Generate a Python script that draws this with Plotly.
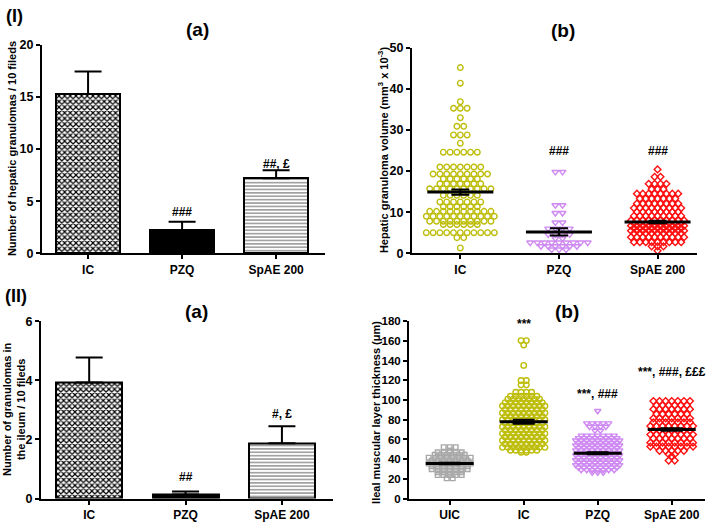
import plotly.graph_objects as go

W, H = 709, 525
FONT = "Liberation Sans"


def fx(px):
    return px / W


def fy(py):
    return 1 - py / H


# ---------------- data ----------------
# (I)(a) bar chart
ia_cats = ["IC", "PZQ", "SpAE 200"]
ia_means = [15.3, 2.2, 7.2]
ia_sem = [2.15, 0.82, 0.77]
ia_sig = ["", "###", "##, £"]
ia_sig_y = [0, 4.0, 8.6]

# (II)(a) bar chart
iia_cats = ["IC", "PZQ", "SpAE 200"]
iia_means = [3.93, 0.14, 1.87]
iia_sem = [0.85, 0.10, 0.58]
iia_sig = ["", "##", "#, £"]
iia_sig_y = [0, 0.73, 2.87]

# (I)(b) scatter dot plot: rows of points (value, number of points in the row)
ib_cats = ["IC", "PZQ", "SpAE 200"]
ib_means = [14.9, 5.2, 7.6]
ib_sems = [0.65, 0.9, 0.3]
ib_sig = ["", "###", "###"]
ib_sig_y = [0, 24.9, 24.9]

ib_ic_rows = [45.2, 41.4, 36.9, 35.3, 33.0, 30.9, 28.8, 26.8, 24.6, 21.0, 19.3, 18.1,
              16.9, 15.7, 14.1, 12.5, 11.3, 10.2, 9.0, 7.8, 7.0, 5.0, 3.8, 1.3]
ib_ic_counts = [1, 1, 1, 3, 1, 2, 3, 1, 6, 7, 9, 6,
                7, 10, 6, 7, 6, 10, 11, 10, 6, 11, 2, 1]

ib_pzq_rows = [19.8, 11.7, 9.8, 7.5, 6.0, 4.6, 3.6, 2.6, 1.7, 0.9]
ib_pzq_counts = [2, 2, 2, 2, 4, 4, 2, 9, 6, 3]

ib_spae_rows = [20.4, 18.6, 16.9, 15.6, 14.5, 13.3, 12.1, 11.0, 10.1, 9.1, 8.0, 7.3,
                6.7, 6.1, 5.5, 4.9, 3.9, 2.7, 1.7, 0.6]
ib_spae_counts = [1, 2, 4, 3, 8, 7, 8, 9, 8, 9, 10, 9,
                  10, 9, 10, 9, 10, 9, 3, 1]

# (II)(b) scatter dot plot
iib_cats = ["UIC", "IC", "PZQ", "SpAE 200"]
iib_means = [35.6, 78.0, 46.0, 70.2]
iib_sems = [0.8, 2.0, 1.0, 1.3]
iib_sig = ["", "***", "***, ###", "***, ###, £££"]
iib_sig_y = [0, 177, 106, 129]

iib_uic_rows = [52.2, 48.8, 47.0, 44.5, 41.5, 38.5, 35.5, 32.8, 29.8, 26.8, 23.8, 20.5]
iib_uic_counts = [3, 1, 5, 6, 8, 7, 8, 7, 7, 5, 5, 2]

iib_ic_rows = [160.5, 156.0, 135.3, 120.0, 115.5, 108.0, 104.0, 101.0, 97.5, 94.0, 90.5,
               87.0, 83.5, 80.0, 76.5, 73.0, 69.5, 66.0, 62.5, 59.0, 55.5, 52.0, 49.0, 47.0]
iib_ic_counts = [2, 1, 1, 2, 2, 4, 6, 7, 8, 9, 8,
                 9, 8, 9, 8, 9, 8, 9, 8, 9, 8, 9, 6, 2]

iib_pzq_rows = [89.0, 76.5, 73.0, 69.0, 64.0, 61.5, 59.0, 56.5, 54.0, 51.5, 49.0, 46.5,
                44.0, 41.5, 39.0, 36.5, 34.0, 31.5, 29.0, 26.5]
iib_pzq_counts = [1, 5, 4, 2, 7, 8, 9, 8, 9, 8, 9, 8,
                  9, 8, 9, 8, 9, 8, 7, 3]

iib_spae_rows = [99.0, 94.7, 90.8, 85.8, 81.5, 77.5, 73.6, 69.3, 65.0, 61.1, 56.8, 52.8,
                 48.5, 45.0, 42.9, 38.6]
iib_spae_counts = [7, 6, 7, 6, 7, 7, 8, 7, 8, 7, 8, 8,
                   5, 2, 1, 2]

# ---------------- geometry (pixels) ----------------
P_IA = dict(x0=42, x1=325, y0=39, y1=253, xr=[-0.49, 2.52], yr=[0, 20])
P_IB = dict(x0=412, x1=697, y0=42, y1=253, xr=[-0.49, 2.40], yr=[0, 50])
P_IIA = dict(x0=41, x1=333, y0=323, y1=505, xr=[-0.50, 2.53], yr=[0, 6])
P_IIB = dict(x0=409, x1=705, y0=323, y1=505, xr=[-0.55, 3.45], yr=[0, 180])


def px_per_cat(p):
    return (p["x1"] - p["x0"]) / (p["xr"][1] - p["xr"][0])


def rows_layout(rows, counts, center, spacing_px, ppc):
    xs, ys = [], []
    for v, n in zip(rows, counts):
        for i in range(n):
            xs.append(center + (i - (n - 1) / 2) * spacing_px / ppc)
            ys.append(v)
    return xs, ys


fig = go.Figure()


def add_axes(idx, p, cats, yticks, ytick_size=12):
    sfx = "" if idx == 1 else str(idx)
    fig.layout["xaxis" + sfx] = dict(
        domain=[fx(p["x0"]), fx(p["x1"])], range=p["xr"], anchor="y" + sfx,
        tickvals=list(range(len(cats))), ticktext=cats, showline=True, linecolor="black",
        linewidth=2, ticks="outside", ticklen=4, tickwidth=2, tickcolor="black",
        showgrid=False, zeroline=False,
        tickfont=dict(family=FONT, size=12, color="black", weight="bold"), fixedrange=True)
    fig.layout["yaxis" + sfx] = dict(
        domain=[fy(p["y1"]), fy(p["y0"])], range=p["yr"], anchor="x" + sfx,
        tickvals=yticks, showline=True, linecolor="black", linewidth=2, ticks="outside",
        ticklen=4, tickwidth=2, tickcolor="black", showgrid=False, zeroline=False,
        tickfont=dict(family=FONT, size=ytick_size, color="black", weight="bold"),
        fixedrange=True)


add_axes(1, P_IA, ia_cats, [0, 5, 10, 15, 20], 12.5)
add_axes(2, P_IB, ib_cats, [0, 10, 20, 30, 40, 50], 12.5)
add_axes(3, P_IIA, iia_cats, [0, 2, 4, 6], 12.5)
add_axes(4, P_IIB, iib_cats, list(range(0, 181, 20)), 11.5)

# ---------------- bars ----------------
bar_styles = [
    dict(color="white", pattern=dict(shape="x", size=4, solidity=0.5, fgcolor="black",
                                     bgcolor="white", fillmode="replace")),
    dict(color="black"),
    dict(color="white", pattern=dict(shape="-", size=3.4, solidity=0.25, fgcolor="#444444",
                                     bgcolor="white", fillmode="replace")),
]
for xa, ya, means, sem in [("x", "y", ia_means, ia_sem), ("x3", "y3", iia_means, iia_sem)]:
    for i, (m, e) in enumerate(zip(means, sem)):
        st = dict(bar_styles[i])
        st["line"] = dict(color="black", width=2)
        fig.add_trace(go.Bar(
            x=[i], y=[m], xaxis=xa, yaxis=ya, width=0.685, marker=st,
            error_y=dict(type="data", symmetric=False, array=[e], arrayminus=[0],
                         color="black", thickness=2, width=13.5),
            hoverinfo="skip"))

# ---------------- scatter dot plots ----------------
OLIVE = "#BDBD0A"
VIOLET = "#CF8AF2"
RED = "#FF1010"
GRAY = "#A8A8A8"

ppc_ib = px_per_cat(P_IB)
ppc_iib = px_per_cat(P_IIB)

ib_groups = [
    (ib_ic_rows, ib_ic_counts, 0, 6.8, "circle-open", OLIVE, 5.6),
    (ib_pzq_rows, ib_pzq_counts, 1, 7.2, "triangle-down-open", VIOLET, 6),
    (ib_spae_rows, ib_spae_counts, 2, 5.9, "diamond-open", RED, 5.2),
]
for rows, counts, c, sp, sym, col, sz in ib_groups:
    xs, ys = rows_layout(rows, counts, c, sp, ppc_ib)
    fig.add_trace(go.Scatter(x=xs, y=ys, xaxis="x2", yaxis="y2", mode="markers",
                             marker=dict(symbol=sym, size=sz, color=col,
                                         line=dict(color=col, width=1.4)),
                             cliponaxis=False, hoverinfo="skip"))

iib_groups = [
    (iib_uic_rows, iib_uic_counts, 0, 6.0, "square-open", GRAY, 4.6),
    (iib_ic_rows, iib_ic_counts, 1, 5.3, "circle-open", OLIVE, 5.5),
    (iib_pzq_rows, iib_pzq_counts, 2, 5.5, "triangle-down-open", VIOLET, 5.6),
    (iib_spae_rows, iib_spae_counts, 3, 6.1, "diamond-open", RED, 5.2),
]
for rows, counts, c, sp, sym, col, sz in iib_groups:
    xs, ys = rows_layout(rows, counts, c, sp, ppc_iib)
    fig.add_trace(go.Scatter(x=xs, y=ys, xaxis="x4", yaxis="y4", mode="markers",
                             marker=dict(symbol=sym, size=sz, color=col,
                                         line=dict(color=col, width=1.4)),
                             cliponaxis=False, hoverinfo="skip"))

# mean lines with SEM
for xa, ya, means, sems, ppc in [("x2", "y2", ib_means, ib_sems, ppc_ib),
                                  ("x4", "y4", iib_means, iib_sems, ppc_iib)]:
    half = (33 if xa == "x2" else 24) / ppc
    for i, m in enumerate(means):
        fig.add_trace(go.Scatter(x=[i - half, i + half], y=[m, m], xaxis=xa, yaxis=ya,
                                 mode="lines", line=dict(color="black", width=3),
                                 hoverinfo="skip"))
    fig.add_trace(go.Scatter(x=list(range(len(means))), y=means, xaxis=xa, yaxis=ya,
                             mode="markers", marker=dict(size=1, color="rgba(0,0,0,0)"),
                             error_y=dict(type="data", array=sems, color="black",
                                          thickness=2, width=9 if xa == "x2" else 11),
                             hoverinfo="skip"))

# ---------------- annotations ----------------
ann = []
sig_font = dict(family=FONT, size=12, color="black", weight="bold")
for xa, ya, sig, sy in [("x", "y", ia_sig, ia_sig_y), ("x2", "y2", ib_sig, ib_sig_y),
                        ("x3", "y3", iia_sig, iia_sig_y), ("x4", "y4", iib_sig, iib_sig_y)]:
    for i, (t, yv) in enumerate(zip(sig, sy)):
        if t:
            ann.append(dict(x=i, y=yv, xref=xa, yref=ya, text=t, showarrow=False,
                            xanchor="center", yanchor="middle", font=sig_font))

for t, px, py, sz in [("(I)", 14, 9, 18), ("(a)", 197, 23, 19), ("(b)", 563, 24, 19),
                      ("(II)", 16, 297, 18), ("(a)", 196, 313, 19), ("(b)", 567, 313, 19)]:
    ann.append(dict(x=fx(px), y=fy(py), xref="paper", yref="paper", text=t,
                    showarrow=False, xanchor="center", yanchor="middle",
                    font=dict(family=FONT, size=sz, color="black", weight="bold")))

ytitle_font = dict(family=FONT, size=11, color="black", weight="bold")
for t, px, py in [("Number of hepatic granulomas / 10 fileds", 12, 146),
                  ("Hepatic granuloma volume (mm<sup>3</sup> x 10<sup>-3</sup>)", 383, 147),
                  ("Number of granulomas in<br>the ileum / 10 fileds", 14, 413),
                  ("Ileal muscular layer thickness (μm)", 376, 416)]:
    ann.append(dict(x=fx(px), y=fy(py), xref="paper", yref="paper", text=t,
                    showarrow=False, xanchor="center", yanchor="middle", textangle=-90,
                    font=ytitle_font))

fig.update_layout(width=W, height=H, margin=dict(l=0, r=0, t=0, b=0),
                  paper_bgcolor="white", plot_bgcolor="white", showlegend=False,
                  annotations=ann, bargap=0)

fig.write_html("out.html", config={"displayModeBar": False},
               post_script="document.body.style.margin='0px';document.body.style.padding='0px';")
